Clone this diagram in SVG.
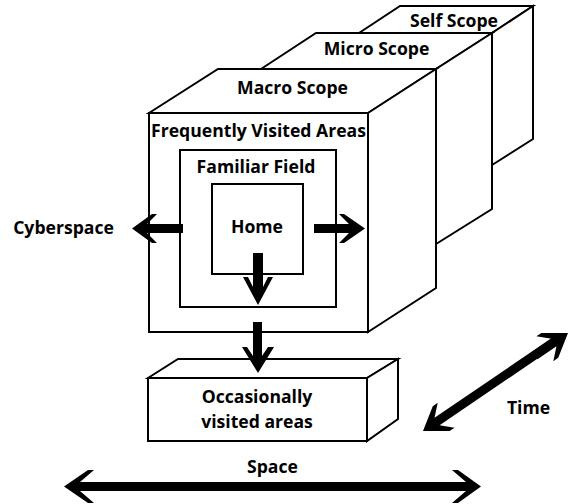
<svg xmlns="http://www.w3.org/2000/svg" width="568" height="504" viewBox="0 0 568 504">
  <style>
    .face { fill: #ffffff; stroke: #000000; stroke-width: 2; stroke-linejoin: miter; }
    .lbl { font-family: "Open Sans", "Liberation Sans", sans-serif; font-weight: 700; font-size: 17.6px; fill: #000000; text-anchor: middle; }
    .arrow { fill: #000000; stroke: none; }
  </style>
  <rect width="568" height="504" fill="#ffffff"/>

  <!-- Self Scope (rearmost slab) -->
  <g id="self-scope">
    <rect class="face" x="359" y="33" width="133" height="132"/>
    <polygon class="face" points="359,33 400,6 533,6 492,33"/>
    <polygon class="face" points="492,33 533,6 533,139 492,165"/>
    <text class="lbl" x="454" y="27">Self Scope</text>
  </g>

  <!-- Micro Scope (middle slab) -->
  <g id="micro-scope">
    <rect class="face" x="261" y="69" width="175" height="175"/>
    <polygon class="face" points="261,69 316,33 492,33 436,69"/>
    <polygon class="face" points="436,69 492,33 492,209 436,244"/>
    <text class="lbl" x="376.5" y="55">Micro Scope</text>
  </g>

  <!-- Macro Scope (front cube) -->
  <g id="macro-scope">
    <rect class="face" x="149" y="113" width="219" height="219"/>
    <polygon class="face" points="149,113 218,69 436,69 368,113"/>
    <polygon class="face" points="368,113 436,69 436,288 368,332"/>
    <text class="lbl" x="292.5" y="94">Macro Scope</text>
    <text class="lbl" x="258.5" y="137">Frequently Visited Areas</text>
  </g>

  <g id="familiar-field">
    <rect class="face" x="180" y="150" width="156" height="157"/>
    <text class="lbl" x="256" y="173">Familiar Field</text>
  </g>

  <g id="home">
    <rect class="face" x="212" y="184" width="91" height="90"/>
    <text class="lbl" x="257" y="233">Home</text>
  </g>

  <g id="occasional-areas">
    <rect class="face" x="148" y="378" width="219" height="63"/>
    <polygon class="face" points="148,378 178,359 398,359 367,378"/>
    <polygon class="face" points="367,378 398,359 398,419 367,441"/>
    <text class="lbl" x="257" y="403">Occasionally</text>
    <text class="lbl" x="257" y="428">visited areas</text>
  </g>

  <g id="cyberspace">
    <text class="lbl" x="63.5" y="234">Cyberspace</text>
  </g>

  <g id="axis-labels">
    <text class="lbl" x="528.5" y="414">Time</text>
    <text class="lbl" x="272.5" y="473">Space</text>
  </g>

  <!-- connectors: solid chevron-headed arrows -->
  <g id="connectors" class="arrow">
    <!-- to Cyberspace (left) -->
    <polygon points="132,228.5 152,214 157,214 147,224 183,224 183,233 147,233 157,243 152,243"/>
    <!-- outward (right) -->
    <polygon points="365,228.5 344,214 339,214 349,224 314,224 314,233 349,233 339,243 344,243"/>
    <!-- Home downward -->
    <polygon points="258,305 243,277 248,277 253,287 253,253 263,253 263,287 268,277 273,277"/>
    <!-- Macro to occasionally visited areas -->
    <polygon points="258,373 242,347 247,347 253,356 253,322 262,322 262,356 268,347 274,347"/>
    <!-- Space axis, double headed -->
    <polygon points="64,486.5 88,470 94,470 80,482 466,482 452,470 458,470 481,486.5 458,503 452,503 466,491 80,491 94,503 88,503"/>
    <!-- Time axis, double headed -->
    <g transform="translate(423,431) rotate(-34.2)">
      <polygon points="0,0 22,-15 28,-15 17,-4.5 160,-4.5 160,4.5 17,4.5 28,15 22,15"/>
    </g>
    <g transform="translate(568,333) rotate(-34.2)">
      <polygon points="0,0 -22,-15 -28,-15 -17,-4.5 -40,-4.5 -40,4.5 -17,4.5 -28,15 -22,15"/>
    </g>
  </g>
</svg>
